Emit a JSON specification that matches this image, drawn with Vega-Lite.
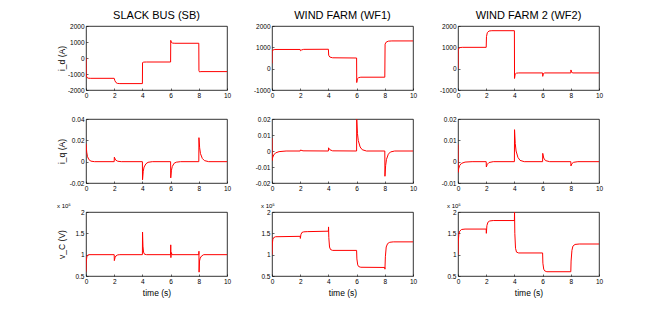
{
  "$schema": "https://vega.github.io/schema/vega-lite/v6.json",
  "padding": {"left": 56, "top": 9, "right": 5, "bottom": 5},
  "background": "#ffffff",
  "datasets": {
    "a": [{"t":0,"v":0},{"t":0.01,"v":-1000},{"t":0.05,"v":-1200},{"t":0.15,"v":-1260},{"t":0.3,"v":-1270},{"t":2,"v":-1270},{"t":2.05,"v":-1420},{"t":2.12,"v":-1530},{"t":2.22,"v":-1585},{"t":2.4,"v":-1600},{"t":4,"v":-1600},{"t":4.01,"v":-290},{"t":4.1,"v":-255},{"t":4.3,"v":-250},{"t":6,"v":-250},{"t":6.01,"v":1100},{"t":6.06,"v":970},{"t":6.15,"v":930},{"t":6.3,"v":920},{"t":8,"v":920},{"t":8.01,"v":-790},{"t":8.05,"v":-870},{"t":8.15,"v":-850},{"t":10,"v":-850}],
    "b": [{"t":0,"v":250},{"t":0.01,"v":800},{"t":0.05,"v":870},{"t":0.2,"v":900},{"t":2,"v":900},{"t":2.02,"v":840},{"t":2.1,"v":880},{"t":2.25,"v":905},{"t":4,"v":910},{"t":4.02,"v":630},{"t":4.1,"v":545},{"t":4.3,"v":510},{"t":6,"v":500},{"t":6.01,"v":-650},{"t":6.05,"v":-480},{"t":6.15,"v":-420},{"t":6.3,"v":-400},{"t":8,"v":-400},{"t":8.02,"v":1150},{"t":8.1,"v":1245},{"t":8.25,"v":1290},{"t":8.5,"v":1300},{"t":10,"v":1300}],
    "c": [{"t":0,"v":0},{"t":0.01,"v":850},{"t":0.05,"v":950},{"t":0.15,"v":990},{"t":0.3,"v":1000},{"t":2,"v":1000},{"t":2.02,"v":1500},{"t":2.08,"v":1690},{"t":2.2,"v":1765},{"t":2.4,"v":1780},{"t":4,"v":1780},{"t":4.01,"v":-460},{"t":4.05,"v":-260},{"t":4.15,"v":-210},{"t":4.3,"v":-200},{"t":6,"v":-200},{"t":6.01,"v":-360},{"t":6.05,"v":-235},{"t":6.15,"v":-200},{"t":8,"v":-200},{"t":8.01,"v":-60},{"t":8.06,"v":-170},{"t":8.15,"v":-200},{"t":10,"v":-200}],
    "d": [{"t":0,"v":0.017},{"t":0.05,"v":0.009},{"t":0.1,"v":0.005},{"t":0.2,"v":0.002},{"t":0.35,"v":0.0005},{"t":0.6,"v":0},{"t":2,"v":0},{"t":2.01,"v":0.0042},{"t":2.1,"v":0.0015},{"t":2.25,"v":0.0004},{"t":2.5,"v":0},{"t":4,"v":0},{"t":4.01,"v":-0.017},{"t":4.06,"v":-0.009},{"t":4.12,"v":-0.005},{"t":4.25,"v":-0.002},{"t":4.4,"v":-0.0006},{"t":4.7,"v":0},{"t":6,"v":0},{"t":6.01,"v":-0.0152},{"t":6.06,"v":-0.008},{"t":6.12,"v":-0.0045},{"t":6.25,"v":-0.0015},{"t":6.4,"v":-0.0005},{"t":6.7,"v":0},{"t":8,"v":0},{"t":8.01,"v":0.0225},{"t":8.06,"v":0.013},{"t":8.12,"v":0.0075},{"t":8.25,"v":0.003},{"t":8.4,"v":0.001},{"t":8.7,"v":0},{"t":10,"v":0}],
    "e": [{"t":0,"v":0.008},{"t":0.01,"v":-0.006},{"t":0.05,"v":-0.004},{"t":0.12,"v":-0.0025},{"t":0.25,"v":-0.0012},{"t":0.5,"v":-0.0004},{"t":1,"v":0},{"t":2,"v":0},{"t":2.02,"v":0.0006},{"t":2.2,"v":0.0001},{"t":4,"v":0},{"t":4.01,"v":0.002},{"t":4.1,"v":0.0008},{"t":4.3,"v":0.0001},{"t":6,"v":0},{"t":6.01,"v":0.0198},{"t":6.06,"v":0.011},{"t":6.12,"v":0.0065},{"t":6.25,"v":0.0025},{"t":6.4,"v":0.0008},{"t":6.7,"v":0},{"t":8,"v":0},{"t":8.01,"v":-0.0158},{"t":8.06,"v":-0.009},{"t":8.12,"v":-0.0052},{"t":8.25,"v":-0.002},{"t":8.4,"v":-0.0006},{"t":8.7,"v":0},{"t":10,"v":0}],
    "f": [{"t":0,"v":0.008},{"t":0.01,"v":-0.005},{"t":0.05,"v":-0.0032},{"t":0.12,"v":-0.0018},{"t":0.25,"v":-0.0008},{"t":0.5,"v":-0.0002},{"t":1,"v":0},{"t":2,"v":0},{"t":2.01,"v":-0.0025},{"t":2.08,"v":-0.0012},{"t":2.2,"v":-0.0004},{"t":2.5,"v":0},{"t":4,"v":0},{"t":4.01,"v":0.015},{"t":4.06,"v":0.0085},{"t":4.12,"v":0.005},{"t":4.25,"v":0.002},{"t":4.4,"v":0.0006},{"t":4.7,"v":0},{"t":6,"v":0},{"t":6.01,"v":0.0039},{"t":6.08,"v":0.0017},{"t":6.2,"v":0.0005},{"t":6.5,"v":0},{"t":8,"v":0},{"t":8.01,"v":-0.002},{"t":8.08,"v":-0.0009},{"t":8.2,"v":-0.0003},{"t":8.5,"v":0},{"t":10,"v":0}],
    "g": [{"t":0,"v":60000},{"t":0.02,"v":85000},{"t":0.06,"v":95000},{"t":0.12,"v":99000},{"t":0.2,"v":100000},{"t":2,"v":100000},{"t":2.01,"v":86000},{"t":2.06,"v":93000},{"t":2.12,"v":97000},{"t":2.25,"v":99500},{"t":2.4,"v":100000},{"t":4,"v":100000},{"t":4.01,"v":153000},{"t":4.04,"v":120000},{"t":4.08,"v":106000},{"t":4.15,"v":101000},{"t":4.3,"v":100000},{"t":6,"v":100000},{"t":6.01,"v":123000},{"t":6.02,"v":93000},{"t":6.05,"v":105000},{"t":6.1,"v":100000},{"t":8,"v":100000},{"t":8.01,"v":108000},{"t":8.02,"v":59000},{"t":8.05,"v":85000},{"t":8.1,"v":92000},{"t":8.2,"v":97000},{"t":8.35,"v":100000},{"t":10,"v":100000}],
    "h": [{"t":0,"v":100000},{"t":0.02,"v":125000},{"t":0.06,"v":136000},{"t":0.12,"v":140000},{"t":0.25,"v":142000},{"t":2,"v":143000},{"t":2.01,"v":138000},{"t":2.05,"v":147000},{"t":2.12,"v":152000},{"t":2.25,"v":153500},{"t":2.5,"v":154000},{"t":4,"v":155000},{"t":4.01,"v":165000},{"t":4.03,"v":140000},{"t":4.08,"v":118000},{"t":4.15,"v":112000},{"t":4.3,"v":110000},{"t":6,"v":110000},{"t":6.02,"v":90000},{"t":6.08,"v":76000},{"t":6.15,"v":72000},{"t":6.3,"v":70500},{"t":8,"v":70000},{"t":8.01,"v":66000},{"t":8.04,"v":95000},{"t":8.1,"v":118000},{"t":8.2,"v":126000},{"t":8.35,"v":129000},{"t":8.6,"v":130000},{"t":10,"v":130000}],
    "i": [{"t":0,"v":100000},{"t":0.02,"v":130000},{"t":0.06,"v":148000},{"t":0.12,"v":155000},{"t":0.25,"v":159000},{"t":0.5,"v":160000},{"t":2,"v":160000},{"t":2.01,"v":150000},{"t":2.05,"v":168000},{"t":2.12,"v":176000},{"t":2.25,"v":179000},{"t":2.5,"v":180000},{"t":4,"v":180000},{"t":4.01,"v":200000},{"t":4.03,"v":150000},{"t":4.08,"v":115000},{"t":4.15,"v":106000},{"t":4.3,"v":104000},{"t":6,"v":104000},{"t":6.02,"v":80000},{"t":6.08,"v":66000},{"t":6.15,"v":62000},{"t":6.3,"v":60000},{"t":8,"v":60000},{"t":8.02,"v":85000},{"t":8.08,"v":110000},{"t":8.15,"v":120000},{"t":8.3,"v":124000},{"t":8.6,"v":125000},{"t":10,"v":125000}]
  },
  "columns": 3,
  "bounds": "flush",
  "spacing": {"row": 29, "column": 45},
  "concat": [
    {"width": 141, "height": 64, "title": "SLACK BUS (SB)", "data": {"name": "a"},
     "mark": {"type": "line", "color": "#ff0000", "strokeWidth": 1, "clip": true},
     "encoding": {
       "x": {"field": "t", "type": "quantitative", "scale": {"domain": [0, 10], "nice": false}, "axis": {"values": [0, 2, 4, 6, 8, 10], "title": null}},
       "y": {"field": "v", "type": "quantitative", "scale": {"domain": [-2000, 2000], "nice": false, "zero": false}, "axis": {"values": [-2000, -1000, 0, 1000, 2000], "labelExpr": "datum.value + ''", "title": "i_d (A)", "titleX": -20, "titleY": 32}}
     }},
    {"width": 141, "height": 64, "title": "WIND FARM (WF1)", "data": {"name": "b"},
     "mark": {"type": "line", "color": "#ff0000", "strokeWidth": 1, "clip": true},
     "encoding": {
       "x": {"field": "t", "type": "quantitative", "scale": {"domain": [0, 10], "nice": false}, "axis": {"values": [0, 2, 4, 6, 8, 10], "title": null}},
       "y": {"field": "v", "type": "quantitative", "scale": {"domain": [-1000, 2000], "nice": false, "zero": false}, "axis": {"values": [-1000, 0, 1000, 2000], "labelExpr": "datum.value + ''", "title": null}}
     }},
    {"width": 141, "height": 64, "title": "WIND FARM 2 (WF2)", "data": {"name": "c"},
     "mark": {"type": "line", "color": "#ff0000", "strokeWidth": 1, "clip": true},
     "encoding": {
       "x": {"field": "t", "type": "quantitative", "scale": {"domain": [0, 10], "nice": false}, "axis": {"values": [0, 2, 4, 6, 8, 10], "title": null}},
       "y": {"field": "v", "type": "quantitative", "scale": {"domain": [-1000, 2000], "nice": false, "zero": false}, "axis": {"values": [-1000, 0, 1000, 2000], "labelExpr": "datum.value + ''", "title": null}}
     }},
    {"width": 141, "height": 64, "data": {"name": "d"},
     "mark": {"type": "line", "color": "#ff0000", "strokeWidth": 1, "clip": true},
     "encoding": {
       "x": {"field": "t", "type": "quantitative", "scale": {"domain": [0, 10], "nice": false}, "axis": {"values": [0, 2, 4, 6, 8, 10], "title": null}},
       "y": {"field": "v", "type": "quantitative", "scale": {"domain": [-0.02, 0.04], "nice": false, "zero": false}, "axis": {"values": [-0.02, 0, 0.02, 0.04], "labelExpr": "datum.value + ''", "title": "i_q (A)", "titleX": -20, "titleY": 32}}
     }},
    {"width": 141, "height": 64, "data": {"name": "e"},
     "mark": {"type": "line", "color": "#ff0000", "strokeWidth": 1, "clip": true},
     "encoding": {
       "x": {"field": "t", "type": "quantitative", "scale": {"domain": [0, 10], "nice": false}, "axis": {"values": [0, 2, 4, 6, 8, 10], "title": null}},
       "y": {"field": "v", "type": "quantitative", "scale": {"domain": [-0.02, 0.02], "nice": false, "zero": false}, "axis": {"values": [-0.02, -0.01, 0, 0.01, 0.02], "labelExpr": "datum.value + ''", "title": null}}
     }},
    {"width": 141, "height": 64, "data": {"name": "f"},
     "mark": {"type": "line", "color": "#ff0000", "strokeWidth": 1, "clip": true},
     "encoding": {
       "x": {"field": "t", "type": "quantitative", "scale": {"domain": [0, 10], "nice": false}, "axis": {"values": [0, 2, 4, 6, 8, 10], "title": null}},
       "y": {"field": "v", "type": "quantitative", "scale": {"domain": [-0.01, 0.02], "nice": false, "zero": false}, "axis": {"values": [-0.01, 0, 0.01, 0.02], "labelExpr": "datum.value + ''", "title": null}}
     }},
    {"width": 141, "height": 64, "title": {"text": "x 10⁵", "fontSize": 6, "anchor": "start", "offset": 0}, "data": {"name": "g"},
     "mark": {"type": "line", "color": "#ff0000", "strokeWidth": 1, "clip": true},
     "encoding": {
       "x": {"field": "t", "type": "quantitative", "scale": {"domain": [0, 10], "nice": false}, "axis": {"values": [0, 2, 4, 6, 8, 10], "title": "time (s)"}},
       "y": {"field": "v", "type": "quantitative", "scale": {"domain": [50000, 200000], "nice": false, "zero": false}, "axis": {"values": [50000, 100000, 150000, 200000], "labelExpr": "datum.value / 100000 + ''", "title": "v_C (V)", "titleX": -20, "titleY": 32}}
     }},
    {"width": 141, "height": 64, "title": {"text": "x 10⁵", "fontSize": 6, "anchor": "start", "offset": 0}, "data": {"name": "h"},
     "mark": {"type": "line", "color": "#ff0000", "strokeWidth": 1, "clip": true},
     "encoding": {
       "x": {"field": "t", "type": "quantitative", "scale": {"domain": [0, 10], "nice": false}, "axis": {"values": [0, 2, 4, 6, 8, 10], "title": "time (s)"}},
       "y": {"field": "v", "type": "quantitative", "scale": {"domain": [50000, 200000], "nice": false, "zero": false}, "axis": {"values": [50000, 100000, 150000, 200000], "labelExpr": "datum.value / 100000 + ''", "title": null}}
     }},
    {"width": 141, "height": 64, "title": {"text": "x 10⁵", "fontSize": 6, "anchor": "start", "offset": 0}, "data": {"name": "i"},
     "mark": {"type": "line", "color": "#ff0000", "strokeWidth": 1, "clip": true},
     "encoding": {
       "x": {"field": "t", "type": "quantitative", "scale": {"domain": [0, 10], "nice": false}, "axis": {"values": [0, 2, 4, 6, 8, 10], "title": "time (s)"}},
       "y": {"field": "v", "type": "quantitative", "scale": {"domain": [50000, 200000], "nice": false, "zero": false}, "axis": {"values": [50000, 100000, 150000, 200000], "labelExpr": "datum.value / 100000 + ''", "title": null}}
     }}
  ],
  "config": {
    "font": "Liberation Sans",
    "view": {"stroke": "#000000", "strokeWidth": 0.8},
    "axis": {"grid": false, "domain": false, "tickSize": -2, "tickColor": "#000000", "tickWidth": 0.6, "labelFontSize": 6.5, "labelColor": "#000000", "labelPadding": 4, "labelFlush": false, "titleFontSize": 8.5, "titleFontWeight": 400, "titleColor": "#000000", "titlePadding": 2},
    "axisX": {"titleFontWeight": 400, "titlePadding": 4},
    "axisY": {"titleFontWeight": 400},
    "title": {"fontSize": 11, "fontWeight": "normal", "color": "#000000", "offset": 2}
  }
}
